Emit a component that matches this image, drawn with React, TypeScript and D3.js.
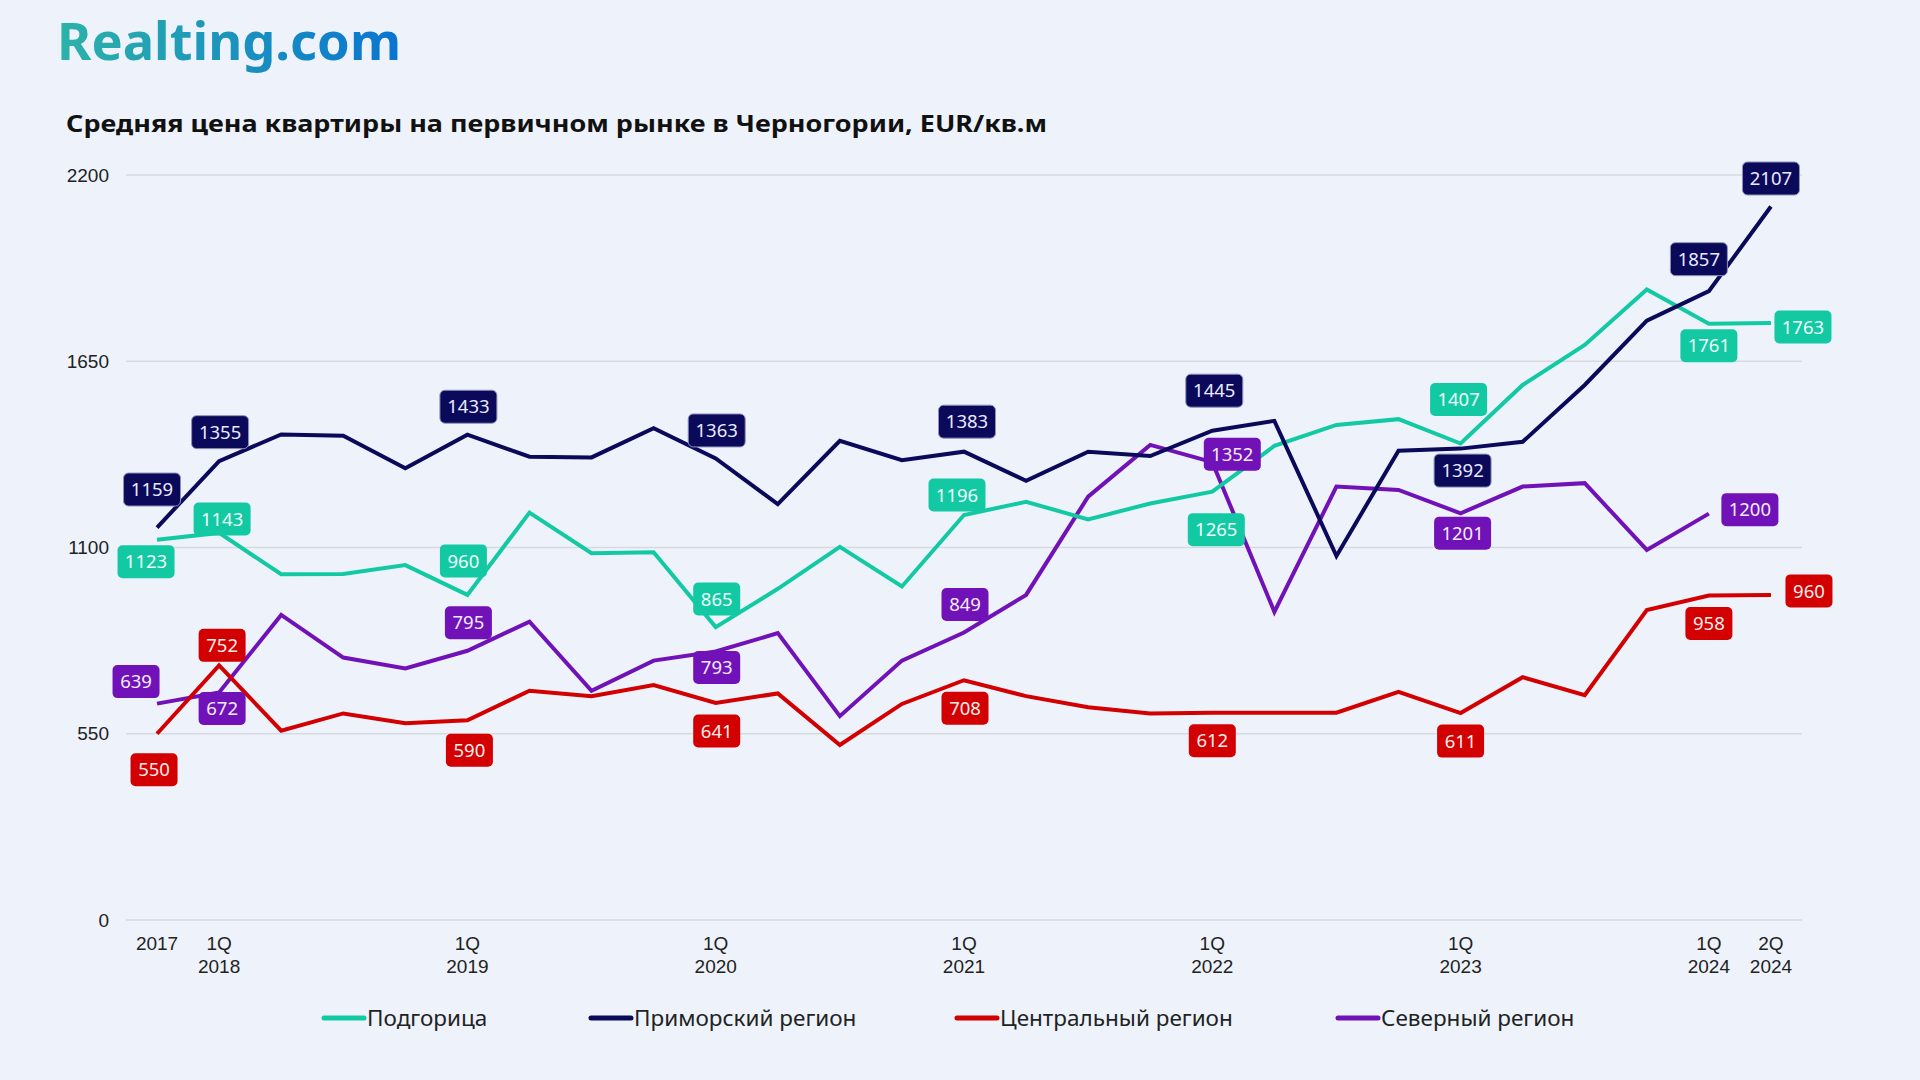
import React, { useEffect } from 'react';
import * as d3 from 'd3';

// ---------- DATA ----------
const periods = [
  '2017',
  '1Q 2018', '2Q 2018', '3Q 2018', '4Q 2018',
  '1Q 2019', '2Q 2019', '3Q 2019', '4Q 2019',
  '1Q 2020', '2Q 2020', '3Q 2020', '4Q 2020',
  '1Q 2021', '2Q 2021', '3Q 2021', '4Q 2021',
  '1Q 2022', '2Q 2022', '3Q 2022', '4Q 2022',
  '1Q 2023', '2Q 2023', '3Q 2023', '4Q 2023',
  '1Q 2024', '2Q 2024',
];

const tickPeriods = ['2017', '1Q 2018', '1Q 2019', '1Q 2020', '1Q 2021', '1Q 2022', '1Q 2023', '1Q 2024', '2Q 2024'];
const yTicks = [0, 550, 1100, 1650, 2200];

const podgorica = [1123, 1143, 1021, 1022, 1048, 960, 1203, 1083, 1086, 865, 978, 1102, 985, 1196, 1235, 1183, 1230, 1265, 1400, 1462, 1479, 1407, 1580, 1698, 1862, 1761, 1763];
const primorsky = [1159, 1355, 1434, 1430, 1334, 1433, 1368, 1366, 1452, 1363, 1228, 1415, 1358, 1383, 1297, 1383, 1370, 1445, 1474, 1075, 1386, 1392, 1412, 1580, 1770, 1857, 2107];
const central = [550, 752, 559, 610, 581, 590, 677, 661, 694, 641, 669, 517, 638, 708, 661, 628, 610, 612, 612, 612, 674, 611, 717, 664, 915, 958, 960];
const northern = [639, 672, 901, 775, 743, 795, 881, 677, 766, 793, 847, 602, 766, 849, 960, 1250, 1403, 1352, 910, 1280, 1270, 1201, 1280, 1290, 1093, 1200, null];

const seriesNames = ['Подгорица', 'Приморский регион', 'Центральный регион', 'Северный регион'];
const labeledPeriods = ['2017', '1Q 2018', '1Q 2019', '1Q 2020', '1Q 2021', '1Q 2022', '1Q 2023', '1Q 2024', '2Q 2024'];

// ---------- LAYOUT / STYLE ----------
const W = 1920;
const H = 1080;
const colors = ['#13c9a4', '#0b0a5a', '#d20000', '#7012b8'];
const labelText = ['#effffa', '#e9e9ff', '#ffecec', '#f6ecff'];
// label offsets (dx, dy) from the point, per series, per labelled period
const labelOffsets = [
  [[-11, 22], [3, -14], [-4, -34], [1, -28], [-7, -20], [4, 38], [-2, -44], [0, 22], [32, 4]],
  [[-5, -38], [1, -29], [1, -28], [1, -28], [3, -30], [2, -40], [2, 22], [-10, -32], [0, -28]],
  [[-3, 36], [3, -20], [2, 30], [1, 28], [1, 28], [0, 28], [0, 28], [0, 28], [38, -4]],
  [[-21, -22], [3, 16], [1, -28], [1, 16], [1, -28], [20, -8], [2, 20], [41, -4], [0, 0]],
];
const legendX = [322, 589, 955, 1336];

export default function App() {
  useEffect(() => {
    document.body.style.margin = '0';
    document.body.style.background = '#eef3fb';
  }, []);

  const x = d3.scalePoint<string>().domain(periods).range([126, 1802]).padding(0.5);
  const y = d3.scaleLinear().domain([0, 2200]).range([920, 175]);

  const allSeries = [podgorica, primorsky, central, northern];
  const line = d3
    .line<number | null>()
    .defined((d) => d != null)
    .x((_, i) => x(periods[i]) as number)
    .y((d) => y(d as number));

  const drawOrder = [3, 2, 0, 1];

  return (
    <svg width={W} height={H} style={{ position: 'absolute', left: 0, top: 0, display: 'block' }}>
      <defs>
        <linearGradient id="logoGrad" x1="0" x2="1" y1="0" y2="0">
          <stop offset="0%" stopColor="#2cb3a8" />
          <stop offset="100%" stopColor="#0a74d2" />
        </linearGradient>
      </defs>
      <rect x={0} y={0} width={W} height={H} fill="#eef3fb" />

      <text x={57} y={60} fontFamily="'Noto Sans', Lato, sans-serif" fontWeight={700} fontSize={52}
        fill="url(#logoGrad)" textLength={344} lengthAdjust="spacingAndGlyphs">Realting.com</text>

      <text x={66} y={132} fontFamily="'Noto Sans', sans-serif" fontWeight={700} fontSize={24}
        fill="#111" textLength={981} lengthAdjust="spacingAndGlyphs">
        Средняя цена квартиры на первичном рынке в Черногории, EUR/кв.м
      </text>

      {/* grid + y ticks */}
      {yTicks.map((t) => (
        <g key={t}>
          <line x1={126} x2={1802} y1={y(t)} y2={y(t)} stroke="#d6d9df" strokeWidth={1.5} />
          <text x={109} y={y(t)} dy="0.35em" textAnchor="end" fontFamily="'Liberation Sans', Arial, sans-serif"
            fontSize={19} fill="#222">{t}</text>
        </g>
      ))}

      {/* x ticks */}
      {tickPeriods.map((p) => {
        const parts = p.split(' ');
        return (
          <text key={p} x={x(p)} y={950} textAnchor="middle" fontFamily="'Liberation Sans', Arial, sans-serif"
            fontSize={19} fill="#222">
            {parts.map((s, k) => (
              <tspan key={k} x={x(p)} dy={k === 0 ? 0 : 23}>{s}</tspan>
            ))}
          </text>
        );
      })}

      {/* lines */}
      {drawOrder.map((si) => (
        <path key={si} d={line(allSeries[si] as (number | null)[]) || ''} fill="none" stroke={colors[si]}
          strokeWidth={4} strokeLinejoin="miter" strokeLinecap="butt" />
      ))}

      {/* labels */}
      {allSeries.map((s, si) =>
        labeledPeriods.map((p, li) => {
          const i = periods.indexOf(p);
          const v = s[i];
          if (v == null) return null;
          const [dx, dy] = labelOffsets[si][li];
          const cx = (x(p) as number) + dx;
          const cy = y(v) + dy;
          const txt = String(v);
          const w = txt.length >= 4 ? 57 : 47;
          const h = 33;
          return (
            <g key={si + '-' + p}>
              <rect x={cx - w / 2} y={cy - h / 2} width={w} height={h} rx={5} fill={colors[si]}
                stroke={si === 1 ? '#8f93b8' : 'none'} strokeWidth={1} />
              <text x={cx} y={cy} dy="0.36em" textAnchor="middle" fontFamily="'Noto Sans', sans-serif"
                fontSize={18.5} fill={labelText[si]}>{txt}</text>
            </g>
          );
        })
      )}

      {/* legend */}
      {seriesNames.map((n, si) => (
        <g key={n}>
          <line x1={legendX[si] + 2} x2={legendX[si] + 42} y1={1018} y2={1018} stroke={colors[si]} strokeWidth={5}
            strokeLinecap="round" />
          <text x={legendX[si] + 45} y={1018} dy="0.36em" fontFamily="'Noto Sans', sans-serif" fontSize={22.5}
            fill="#222">{n}</text>
        </g>
      ))}
    </svg>
  );
}
